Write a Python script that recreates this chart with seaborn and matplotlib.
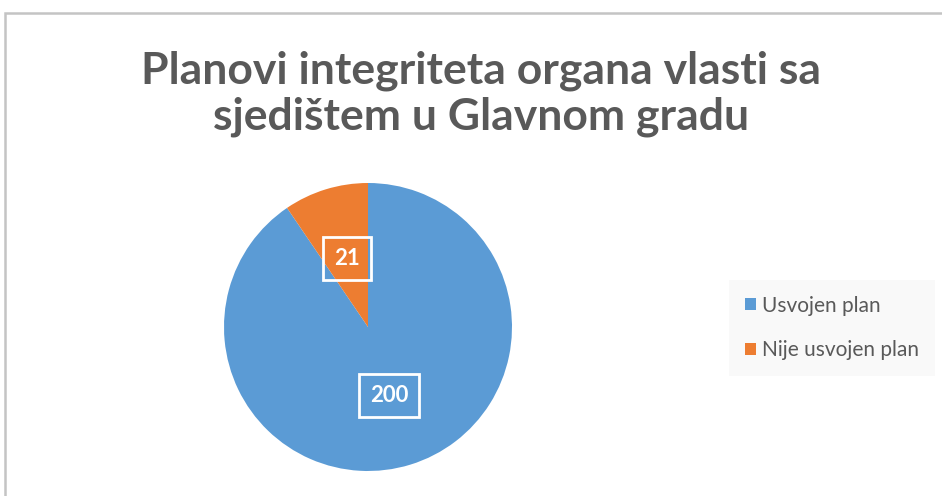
import matplotlib
matplotlib.use("Agg")
import matplotlib.pyplot as plt
import seaborn as sns
from matplotlib.patches import Rectangle

# --- data
categories = ['Usvojen plan', 'Nije usvojen plan']
counts = [200, 21]
colors = ['#5B9BD5', '#ED7D31']
title = 'Planovi integriteta organa vlasti sa\nsjedištem u Glavnom gradu'

sns.set_theme(style='white')
plt.rcParams['font.family'] = ['Lato', 'DejaVu Sans']
text_grey = '#595959'

W, H = 942, 496
fig = plt.figure(figsize=(W / 100, H / 100), dpi=100)
ax = fig.add_axes([0, 0, 1, 1])

wedges, _, autotexts = ax.pie(
    counts, colors=colors, startangle=90, counterclock=False,
    center=(368, H - 327), radius=144, frame=True,
    autopct=lambda p: f'{round(p * sum(counts) / 100):d}',
    pctdistance=0.5, wedgeprops=dict(linewidth=0),
    textprops=dict(color='white', fontsize=16, fontweight='bold'),
)
for t in autotexts:
    t.set_bbox(dict(boxstyle='square,pad=0.5', facecolor='none',
                    edgecolor='white', linewidth=2))

ax.set_xlim(0, W)
ax.set_ylim(0, H)
ax.axis('off')

fig.text(481 / W, 1 - 94 / H, title, ha='center', va='center',
         fontsize=32, fontweight='bold', color=text_grey, linespacing=1.17)

leg = fig.legend(wedges, categories, loc='center left',
                 bbox_to_anchor=(729 / W, 1 - 328 / H), frameon=True,
                 facecolor='#f8f8f8', edgecolor='none', fancybox=False,
                 fontsize=15, labelcolor=text_grey, handlelength=0.55,
                 handleheight=0.55, handletextpad=0.3, labelspacing=1.2,
                 borderpad=0.75, borderaxespad=0)

# chart area border (only top and left visible in the crop)
fig.patches.append(Rectangle((5 / W, -0.1), 1.2, 1.1 - 12.5 / H,
                             transform=fig.transFigure, fill=False,
                             edgecolor='#c4c4c4', linewidth=1.8))

fig.savefig('out.png', dpi=100)
